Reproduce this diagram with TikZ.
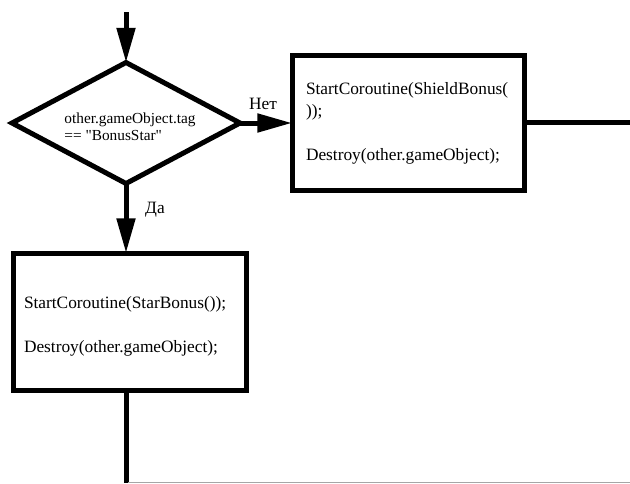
\documentclass[tikz,border=0pt]{standalone}
\usepackage{fontspec}
\setmainfont{Liberation Serif}
\newfontfamily\codefont{Liberation Serif}
\usetikzlibrary{shapes.geometric,arrows.meta}
\begin{document}
\begin{tikzpicture}[x=0.75pt,y=-0.75pt,
  every node/.style={outer sep=0pt},
  thick line/.style={line width=3.75pt},
  flow/.style={thick line, -{Triangle[length=26pt,width=13.5pt]}},
  decision/.style={draw, diamond, thick line, aspect=1.88, inner sep=0pt,
    minimum width=171pt, minimum height=90.75pt, align=left,
    font=\codefont\fontsize{11.5}{12.75}\selectfont},
  block/.style={draw, rectangle, thick line, inner sep=0pt, align=left,
    font=\fontsize{13}{16.5}\selectfont},
  answer/.style={font=\fontsize{13}{15}\selectfont, inner sep=0pt}]
\useasboundingbox (0,0) rectangle (630,483);

% decision and the two branches
\node[decision] (cond) at (126,123)
  {\hspace*{6pt}\rule{0pt}{14pt}other.gameObject.tag\\\hspace*{6pt}== "BonusStar"};
\node[block, minimum width=174pt, minimum height=101.25pt, text width=153pt]
  (shield) at (408,122.5)
  {\rule{0pt}{11pt}StartCoroutine(ShieldBonus(\\));\\[16.5pt]Destroy(other.gameObject);};
\node[block, minimum width=174.75pt, minimum height=102.75pt, text width=158.25pt]
  (star) at (129.5,321.5)
  {\rule{0pt}{17pt}StartCoroutine(StarBonus());\\[16.5pt]Destroy(other.gameObject);};

% branch labels
\node[answer] (no) at (263,104) {Нет};
\node[answer] (yes) at (155,210) {Да};

% free ends of the flow lines
\coordinate (entry) at (126,12);
\coordinate (exitR) at (630,122.5);
\coordinate (exitD) at (126,483);

% connectors
\draw[flow] (entry) -- (cond.north);
\draw[flow] (cond.east) -- (cond.east -| shield.west);
\draw[flow] (cond.south) -- (cond.south |- star.north);
\draw[thick line] (shield.east) -- (exitR);
\draw[thick line] (star.south -| exitD) -- (exitD);

% faint bottom edge
\coordinate (edgeL) at (128,482);
\coordinate (edgeR) at (630,482);
\draw[gray!70, line width=0.75pt] (edgeL) -- (edgeR);
\end{tikzpicture}
\end{document}
